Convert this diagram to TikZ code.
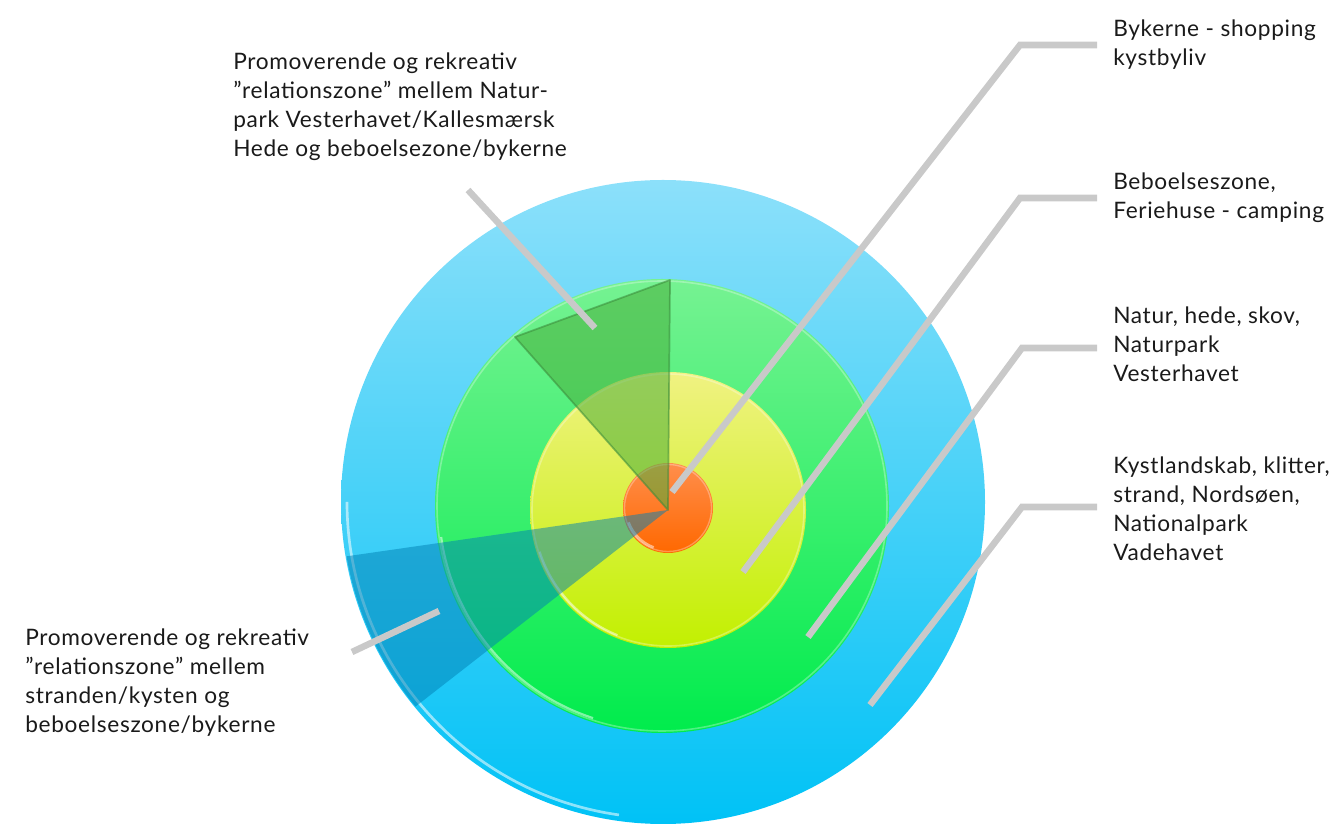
\documentclass[tikz,border=0pt]{standalone}
\usepackage{fontspec}
\setmainfont{Lato}[LetterSpace=3]
\definecolor{blueT}{HTML}{8CE0FA}
\definecolor{blueB}{HTML}{00C2F6}
\definecolor{greenT}{HTML}{76F292}
\definecolor{greenB}{HTML}{00EC4C}
\definecolor{yelT}{HTML}{F0F282}
\definecolor{yelB}{HTML}{C2F000}
\definecolor{orT}{HTML}{FF8E4C}
\definecolor{orB}{HTML}{FF6800}
\definecolor{leadergray}{HTML}{C9C9C9}
\definecolor{wedgeG}{HTML}{4AAE3C}
\definecolor{wedgeGline}{HTML}{3A8A3A}
\definecolor{wedgeB}{HTML}{0080B4}
\definecolor{txt}{HTML}{1A1A1A}
\begin{document}
\begin{tikzpicture}[x=0.75pt,y=0.75pt,
  lbl/.style={anchor=base west, align=left, inner sep=0pt, text=txt,
    font=\fontsize{17}{21.75}\selectfont},
  leader/.style={draw=leadergray, line width=4.9pt},
  rim/.style={white, line width=1.6pt, opacity=0.5}]
\useasboundingbox (0,0) rectangle (1335,828);
% rings
\shade[top color=blueT, bottom color=blueB] (663,326) circle (322);
\draw[rim, opacity=0.55, line width=2pt] (663,326) ++(180:316) arc[start angle=180, end angle=262, radius=316];
\shade[top color=greenT, bottom color=greenB] (662,322) circle (227);
\draw[rim] (662,322) ++(188:223) arc[start angle=188, end angle=252, radius=223];
\draw[white, opacity=0.3, line width=1.2pt] (662,322) circle (225);
\shade[top color=yelT, bottom color=yelB] (668,318) circle (138);
\draw[rim] (668,318) ++(198:135) arc[start angle=198, end angle=248, radius=135];
\draw[white, opacity=0.3, line width=1.2pt] (668,318) circle (136);
\shade[top color=orT, bottom color=orB] (668,320) circle (45);
\draw[rim, line width=2pt] (668,320) ++(200:42) arc[start angle=200, end angle=250, radius=42];
\draw[white, opacity=0.3, line width=1pt] (668,320) circle (43.5);
% wedges
\coordinate (apex) at (668,318);
\coordinate (wA) at (670,548);
\coordinate (wB) at (515,491);
\fill[wedgeG, fill opacity=0.55] (apex) -- (wA) -- (wB) -- cycle;
\draw[wedgeGline, opacity=0.55, line width=1.3pt, line join=round] (apex) -- (wA) -- (wB) -- cycle;
\begin{scope}
  \clip (663,326) circle (321);
  \fill[wedgeB, fill opacity=0.5] (apex) -- ([shift={(188.2:430)}]apex) -- ([shift={(217.9:430)}]apex) -- cycle;
\end{scope}
% labels (anchored at the baseline of their last line)
\node[lbl] (t1) at (1113,762) {Bykerne - shopping\\kystbyliv};
\node[lbl] (t2) at (1113,609) {Beboelseszone,\\Feriehuse - camping};
\node[lbl] (t3) at (1113,446) {Natur, hede, skov,\\Naturpark\\Vesterhavet};
\node[lbl] (t4) at (1113,267) {Kystlandskab, klitter,\\strand, Nordsøen,\\Nationalpark\\Vadehavet};
\node[lbl] (t5) at (233,671) {Promoverende og rekreativ\\”relationszone” mellem Natur-\\park Vesterhavet/Kallesmærsk\\Hede og beboelsezone/bykerne};
\node[lbl] (t6) at (25,95) {Promoverende og rekreativ\\”relationszone” mellem\\stranden/kysten og\\beboelseszone/bykerne};
% leader lines
\coordinate (s1) at (672,336); \coordinate (e1) at (1020,783); \coordinate (h1) at (1097,783);
\coordinate (s2) at (743,256); \coordinate (e2) at (1020,630); \coordinate (h2) at (1097,630);
\coordinate (s3) at (808,191); \coordinate (e3) at (1022,480); \coordinate (h3) at (1097,480);
\coordinate (s4) at (870,123); \coordinate (e4) at (1022,321); \coordinate (h4) at (1097,321);
\coordinate (s5) at (595,500); \coordinate (e5) at (468,638);
\coordinate (s6) at (439,217); \coordinate (e6) at (352,176);
\draw[leader] (s1) -- (e1) -- (h1);
\draw[leader] (s2) -- (e2) -- (h2);
\draw[leader] (s3) -- (e3) -- (h3);
\draw[leader] (s4) -- (e4) -- (h4);
\draw[leader] (s5) -- (e5);
\draw[leader] (s6) -- (e6);
\end{tikzpicture}
\end{document}
